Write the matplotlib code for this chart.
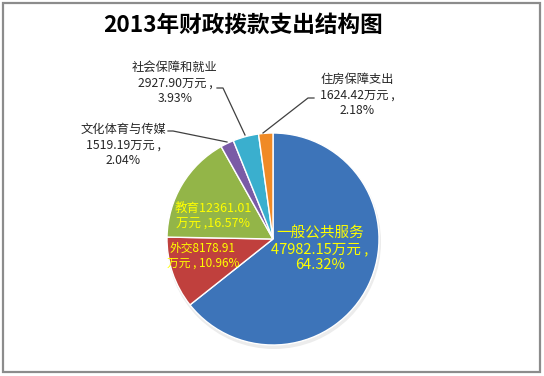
import matplotlib.pyplot as plt
from matplotlib.patches import Rectangle

plt.rcParams['font.family'] = ['Noto Sans CJK SC', 'DejaVu Sans']

names = ['一般公共服务', '外交', '教育', '文化体育与传媒', '社会保障和就业', '住房保障支出']
amounts = [47982.15, 8178.91, 12361.01, 1519.19, 2927.90, 1624.42]
shares = [64.32, 10.96, 16.57, 2.04, 3.93, 2.18]
colors = ['#3D74B9', '#C0403D', '#93B548', '#7A5BA6', '#3AAFCE', '#F08A26']

W, H = 544, 376
fig = plt.figure(figsize=(W / 100, H / 100), dpi=100)
ax = fig.add_axes([0, 0, 1, 1])
ax.set_xlim(0, W)
ax.set_ylim(0, H)
ax.axis('off')

# chart frame
ax.add_patch(Rectangle((3, 4), 537, 369, fill=False, edgecolor='#8c8c8c', lw=1.6))

cx, cy, r = 273, H - 239, 106
# soft shadow
ax.pie([1], colors=['#ececec'], radius=r + 1, center=(cx + 1, cy - 3),
       wedgeprops=dict(linewidth=0))
ax.pie(amounts, colors=colors, startangle=90, counterclock=False,
       radius=r, center=(cx, cy),
       wedgeprops=dict(edgecolor='white', linewidth=1.0))
ax.set_xlim(0, W)
ax.set_ylim(0, H)
ax.set_aspect('equal')

ax.text(243, H - 25, '2013年财政拨款支出结构图', ha='center', va='center',
        fontsize=16.3, fontweight='bold', color='black')

def y(p):
    return H - p

# inner labels (yellow)
ax.text(320, y(249), f'{names[0]}\n{amounts[0]:.2f}万元 ,\n{shares[0]:.2f}%',
        ha='center', va='center', fontsize=10.5, color='#FFFF00', linespacing=1.15)
ax.text(213, y(216), f'{names[2]}{amounts[2]:.2f}\n万元 ,{shares[2]:.2f}%',
        ha='center', va='center', fontsize=9, color='#FFFF00', linespacing=1.25)
ax.text(203, y(256), f'{names[1]}{amounts[1]:.2f}\n万元 , {shares[1]:.2f}%',
        ha='center', va='center', fontsize=8.5, color='#FFFF00', linespacing=1.2)

# outer labels with leader lines
outer = [
    (123, 145, [(227, 142), (173, 131), (168, 131)]),
    (175, 83, [(245, 135), (223, 88), (217, 88)]),
    (357, 95, [(263, 133), (308, 98), (314, 98)]),
]
for i, (tx, ty, pts) in zip([3, 4, 5], outer):
    ax.plot([p[0] for p in pts], [y(p[1]) for p in pts], color='#404040', lw=0.9)
    ax.text(tx, y(ty), f'{names[i]}\n{amounts[i]:.2f}万元 ,\n{shares[i]:.2f}%',
            ha='center', va='center', fontsize=8.8, color='#262626', linespacing=1.3)

fig.savefig('out.png', dpi=100)
